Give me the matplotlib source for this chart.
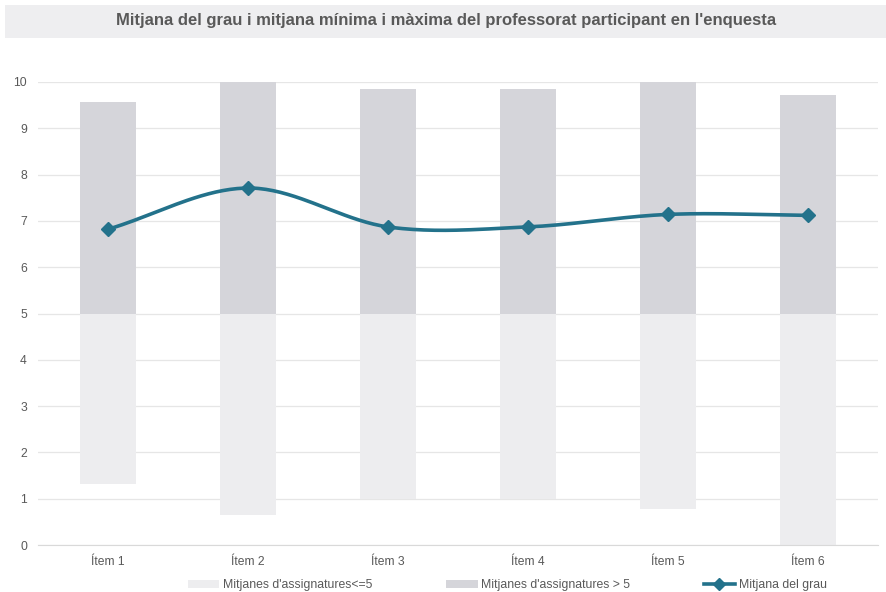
import numpy as np
import matplotlib
matplotlib.use("Agg")
import matplotlib.pyplot as plt
from matplotlib.patches import Rectangle
from matplotlib.lines import Line2D
from matplotlib.patches import Patch

plt.rcParams['font.family'] = ['Liberation Sans', 'DejaVu Sans']

categories = ["Ítem 1", "Ítem 2", "Ítem 3", "Ítem 4", "Ítem 5", "Ítem 6"]
low_values = [1.32, 0.65, 0.99, 0.99, 0.78, 0.0]
high_values = [9.57, 10.0, 9.85, 9.85, 10.0, 9.72]
mean_values = [6.82, 7.71, 6.87, 6.87, 7.14, 7.12]
threshold = 5

c_low = "#EDEDEF"
c_high = "#D5D5DA"
c_line = "#23728B"
c_text = "#595959"

fig = plt.figure(figsize=(8.87, 5.92), dpi=100)
# title band
fig.patches.append(Rectangle((5/887, 1-38/592), 882/887, 33/592, transform=fig.transFigure,
                             facecolor="#EEEEF0", edgecolor="none", zorder=0))
fig.text(446/887, 1-21/592, "Mitjana del grau i mitjana mínima i màxima del professorat participant en l'enquesta",
         ha="center", va="center", fontsize=12, fontweight="bold", color=c_text)

ax = fig.add_axes([38/887, 1-545/592, 840/887, (545-82)/592])
x = np.arange(len(categories))
w = 0.4
ax.bar(x, [threshold - v for v in low_values], bottom=low_values, width=w, color=c_low, zorder=2)
ax.bar(x, [v - threshold for v in high_values], bottom=threshold, width=w, color=c_high, zorder=2)

# smooth (Catmull-Rom) curve through the means
pts = np.column_stack([x, mean_values]).astype(float)
P = np.vstack([pts[0] - (pts[1] - pts[0]), pts, pts[-1] + (pts[-1] - pts[-2])])
curve = []
tension = 0.5
for i in range(1, len(P) - 2):
    p0, p1, p2, p3 = P[i-1], P[i], P[i+1], P[i+2]
    m1 = tension * (p2 - p0)
    m2 = tension * (p3 - p1)
    t = np.linspace(0, 1, 40)[:, None]
    h00 = 2*t**3 - 3*t**2 + 1
    h10 = t**3 - 2*t**2 + t
    h01 = -2*t**3 + 3*t**2
    h11 = t**3 - t**2
    seg = h00*p1 + h10*m1 + h01*p2 + h11*m2
    curve.append(seg if i == 1 else seg[1:])
curve = np.vstack(curve)
ax.plot(curve[:, 0], curve[:, 1], color=c_line, lw=2.6, zorder=3, solid_capstyle="round")
ax.plot(x, mean_values, linestyle="none", marker="D", markersize=7.5, color=c_line, zorder=4)

ax.set_xlim(-0.5, len(categories) - 0.5)
ax.set_ylim(0, 10)
ax.set_yticks(range(0, 11))
ax.set_xticks(x)
ax.set_xticklabels(categories)
ax.grid(axis="y", color="#E6E6E6", lw=0.9, zorder=0)
ax.set_axisbelow(True)
for s in ["top", "right", "left"]:
    ax.spines[s].set_visible(False)
ax.spines["bottom"].set_color("#D9D9D9")
ax.tick_params(axis="both", length=0, labelsize=8.7, colors=c_text)
ax.tick_params(axis="y", pad=8)
ax.tick_params(axis="x", pad=8)

handles = [Patch(facecolor=c_low, edgecolor="none"),
           Patch(facecolor=c_high, edgecolor="none"),
           Line2D([0], [0], color=c_line, lw=2.6, marker="D", markersize=6)]
labels = ["Mitjanes d'assignatures<=5", "Mitjanes d'assignatures > 5", "Mitjana del grau"]
leg = fig.legend(handles, labels, loc="center", bbox_to_anchor=(0.572, 1-585/592), ncol=3,
                 frameon=False, fontsize=8.8, handlelength=2.6, handleheight=0.6,
                 handletextpad=0.3, columnspacing=6.0)
for t in leg.get_texts():
    t.set_color(c_text)

fig.savefig("out.png", dpi=100)
